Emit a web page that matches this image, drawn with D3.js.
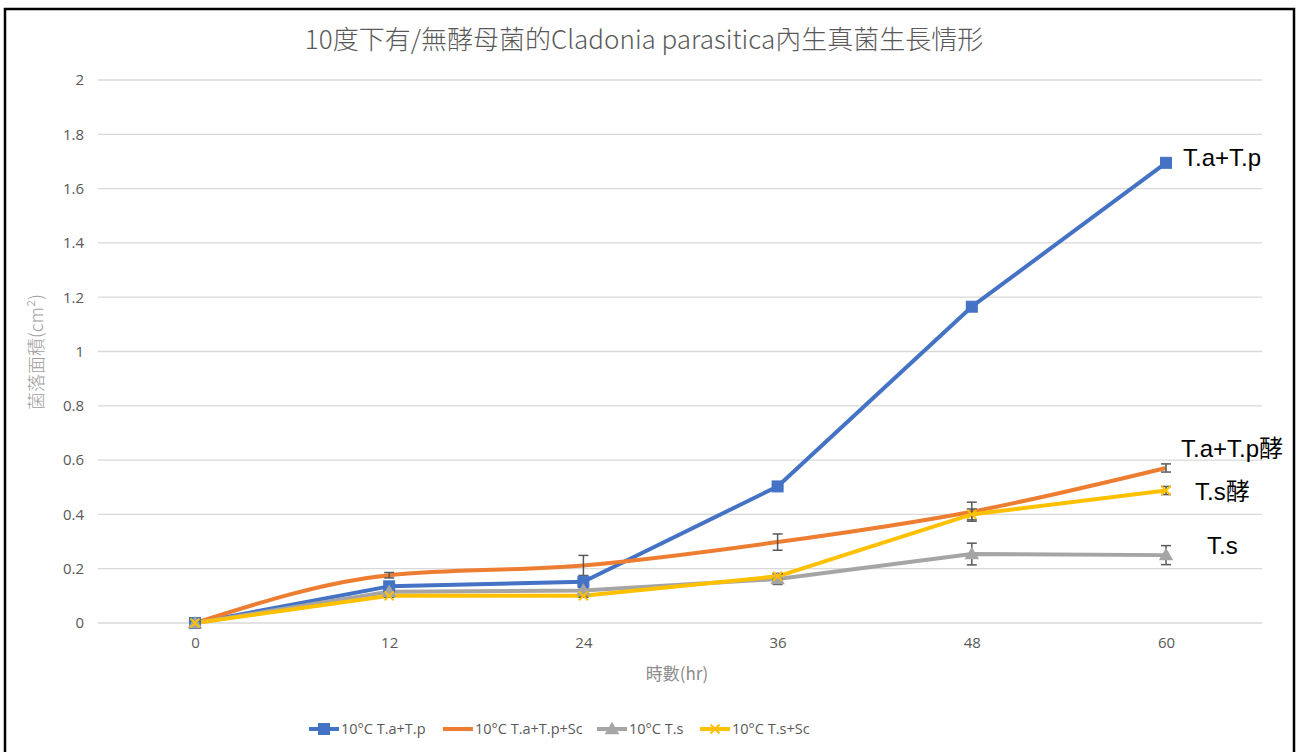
<!DOCTYPE html>
<html>
<head>
<meta charset="utf-8">
<script src="https://cdn.jsdelivr.net/npm/d3@7"></script>
<style>
  body { margin: 0; background: #fff; }
  svg { display: block; }
</style>
</head>
<body>
<div id="chart"></div>
<script>
// data
const hours = ["0", "12", "24", "36", "48", "60"];
const taTp = [0, 0.135, 0.152, 0.503, 1.165, 1.695];
const taTpSc = [0, 0.176, 0.212, 0.298, 0.41, 0.571];
const ts = [0, 0.115, 0.12, 0.162, 0.254, 0.25];
const tsSc = [0, 0.1, 0.1, 0.172, 0.4, 0.488];
const errTaTp = [0, 0.01, 0.01, 0.01, 0.01, 0.01];
const errTaTpSc = [0, 0.01, 0.037, 0.03, 0.035, 0.015];
const errTs = [0, 0.01, 0.01, 0.02, 0.04, 0.035];
const errTsSc = [0, 0.005, 0.005, 0.01, 0.02, 0.015];
const yTicks = [0, 0.2, 0.4, 0.6, 0.8, 1, 1.2, 1.4, 1.6, 1.8, 2];
const seriesNames = ["10°C T.a+T.p", "10°C T.a+T.p+Sc", "10°C T.s", "10°C T.s+Sc"];
const endLabels = ["T.a+T.p", "T.a+T.p酵", "T.s", "T.s酵"];

const series = [
  { name: seriesNames[0], values: taTp, err: errTaTp, color: "#4472C4", marker: "square", smooth: false, label: endLabels[0], lx: 1183, ly: 166 },
  { name: seriesNames[1], values: taTpSc, err: errTaTpSc, color: "#ED7D31", marker: null, smooth: true, label: endLabels[1], lx: 1181, ly: 457 },
  { name: seriesNames[2], values: ts, err: errTs, color: "#A5A5A5", marker: "triangle", smooth: false, label: endLabels[2], lx: 1207, ly: 554 },
  { name: seriesNames[3], values: tsSc, err: errTsSc, color: "#FFC000", marker: "x", smooth: false, label: endLabels[3], lx: 1195, ly: 500 }
];

const width = 1299, height = 752;
const svg = d3.select("#chart").append("svg")
  .attr("width", width)
  .attr("height", height);

const fontCJK = "'Noto Sans CJK TC', 'Noto Sans', sans-serif";
const fontLatin = "'Open Sans', 'Noto Sans', sans-serif";

// frame
svg.append("rect")
  .attr("x", 5).attr("y", 9)
  .attr("width", 1289).attr("height", 770)
  .attr("fill", "none")
  .attr("stroke", "#000")
  .attr("stroke-width", 2.5);

const x = d3.scalePoint()
  .domain(hours)
  .range([195, 1166]);

const y = d3.scaleLinear()
  .domain([0, 2])
  .range([623, 80]);

// gridlines
svg.append("g")
  .selectAll("line")
  .data(yTicks)
  .join("line")
  .attr("x1", 98).attr("x2", 1262)
  .attr("y1", d => y(d)).attr("y2", d => y(d))
  .attr("stroke", "#d9d9d9")
  .attr("stroke-width", 1.3);

// y axis labels
const yAxis = svg.append("g")
  .attr("transform", "translate(84,0)")
  .call(d3.axisLeft(y).tickValues(yTicks).tickSize(0).tickPadding(0).tickFormat(d3.format("~g")));
yAxis.select(".domain").remove();
yAxis.selectAll("text")
  .attr("fill", "#595959")
  .style("font-family", fontLatin)
  .style("font-size", "15px");

// x axis labels
const xAxis = svg.append("g")
  .attr("transform", "translate(0,637)")
  .call(d3.axisBottom(x).tickSize(0).tickPadding(0));
xAxis.select(".domain").remove();
xAxis.selectAll("text")
  .attr("fill", "#595959")
  .style("font-family", fontLatin)
  .style("font-size", "15px");

// title
svg.append("text")
  .attr("x", 644).attr("y", 49)
  .attr("text-anchor", "middle")
  .attr("fill", "#595959")
  .style("font-family", fontCJK)
  .style("font-size", "26px")
  .style("font-weight", 300)
  .text("10度下有/無酵母菌的Cladonia parasitica內生真菌生長情形");

// axis titles
svg.append("text")
  .attr("x", 677).attr("y", 680)
  .attr("text-anchor", "middle")
  .attr("fill", "#8c8c8c")
  .style("font-family", fontCJK)
  .style("font-size", "17px")
  .text("時數(hr)");

svg.append("text")
  .attr("transform", "translate(43,352) rotate(-90)")
  .attr("text-anchor", "middle")
  .attr("fill", "#a0a0a0")
  .style("font-family", fontCJK)
  .style("font-size", "18px")
  .style("font-weight", 300)
  .text("菌落面積(cm²)");

const lineStraight = d3.line()
  .x((d, i) => x(hours[i]))
  .y(d => y(d));
const lineSmooth = d3.line()
  .x((d, i) => x(hours[i]))
  .y(d => y(d))
  .curve(d3.curveMonotoneX);

function drawMarker(g, type, color, cx, cy, s) {
  if (type === "square") {
    g.append("rect")
      .attr("x", cx - s / 2).attr("y", cy - s / 2)
      .attr("width", s).attr("height", s)
      .attr("fill", color)
      .attr("stroke", color).attr("stroke-width", 1);
  } else if (type === "triangle") {
    const sym = d3.symbol().type(d3.symbolTriangle).size(s * s * 0.75);
    g.append("path")
      .attr("transform", `translate(${cx},${cy + 1})`)
      .attr("d", sym())
      .attr("fill", color);
  } else if (type === "x") {
    const h = s / 2;
    g.append("path")
      .attr("d", `M${cx - h},${cy - h}L${cx + h},${cy + h}M${cx - h},${cy + h}L${cx + h},${cy - h}`)
      .attr("stroke", color)
      .attr("stroke-width", 2)
      .attr("fill", "none");
  }
}

// draw series
series.forEach(s => {
  svg.append("path")
    .datum(s.values)
    .attr("d", s.smooth ? lineSmooth : lineStraight)
    .attr("fill", "none")
    .attr("stroke", s.color)
    .attr("stroke-width", 4)
    .attr("stroke-linejoin", "round");
});

// error bars
series.forEach(s => {
  const g = svg.append("g");
  s.values.forEach((v, i) => {
    if (!s.err[i]) return;
    const cx = x(hours[i]);
    const y1 = y(v + s.err[i]), y2 = y(v - s.err[i]);
    g.append("line")
      .attr("x1", cx).attr("x2", cx)
      .attr("y1", y1).attr("y2", y2)
      .attr("stroke", "#595959").attr("stroke-width", 1.5);
    [y1, y2].forEach(yy => {
      g.append("line")
        .attr("x1", cx - 5).attr("x2", cx + 5)
        .attr("y1", yy).attr("y2", yy)
        .attr("stroke", "#595959").attr("stroke-width", 1.5);
    });
  });
});

// markers (drawn last so they sit on top)
series.forEach(s => {
  if (!s.marker) return;
  const g = svg.append("g");
  s.values.forEach((v, i) => {
    drawMarker(g, s.marker, s.color, x(hours[i]), y(v), s.marker === "x" ? 9 : 11);
  });
});

// end labels
series.forEach(s => {
  svg.append("text")
    .attr("x", s.lx).attr("y", s.ly)
    .attr("fill", "#000")
    .style("font-family", "'Liberation Sans', Arial, 'Noto Sans CJK TC', sans-serif")
    .style("font-size", "24px")
    .text(s.label);
});

// legend
const legendX = [309, 443, 597, 700];
const legend = svg.append("g");
series.forEach((s, i) => {
  const lx = legendX[i], ly = 729;
  const w = 30;
  legend.append("line")
    .attr("x1", lx).attr("x2", lx + w)
    .attr("y1", ly).attr("y2", ly)
    .attr("stroke", s.color)
    .attr("stroke-width", 4);
  if (s.marker) drawMarker(legend, s.marker, s.color, lx + w / 2, ly, s.marker === "x" ? 9 : 11);
  legend.append("text")
    .attr("x", lx + w + 2).attr("y", ly + 5)
    .attr("fill", "#595959")
    .style("font-family", fontLatin)
    .style("font-size", "14.5px")
    .text(s.name);
});
</script>
</body>
</html>
